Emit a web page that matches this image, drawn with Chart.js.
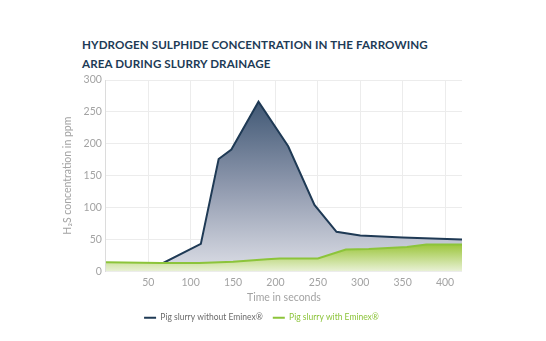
<!DOCTYPE html>
<html>
<head>
<meta charset="utf-8">
<script src="https://cdn.jsdelivr.net/npm/chart.js@4"></script>
<style>
  html, body { margin: 0; padding: 0; background: #fff; }
  #wrap { position: relative; width: 546px; height: 341px; }
  #title {
    position: absolute; left: 82px; top: 35px;
    font: bold 11.6px Lato, sans-serif; line-height: 19px;
    color: #1d3b56; letter-spacing: 0.1px;
  }
  canvas { position: absolute; left: 0; top: 0; }
</style>
</head>
<body>
<div id="wrap">
  <div id="title">HYDROGEN SULPHIDE CONCENTRATION IN THE FARROWING<br>AREA DURING SLURRY DRAINAGE</div>
  <canvas id="h2s" width="546" height="341"></canvas>
</div>
<script>
// time (s) / H2S (ppm) readings
const secondsWithout = [0, 63, 112, 133, 148, 180, 215, 246, 272, 300, 350, 420];
const ppmWithout     = [10, 10, 43, 176, 191, 266, 196, 104, 62, 56, 53, 50];
const secondsWith    = [0, 65, 110, 150, 190, 205, 250, 283, 310, 355, 378, 420];
const ppmWith        = [14, 13, 13, 15, 19, 20, 20, 34, 35, 38, 42, 42];

const xTicks = [50, 100, 150, 200, 250, 300, 350, 400];
const labelWithout = 'Pig slurry without Eminex®';
const labelWith = 'Pig slurry with Eminex®';

const toPoints = (xs, ys) => xs.map((x, i) => ({ x: x, y: ys[i] }));

const darkFill = (ctx) => {
  const area = ctx.chart.chartArea;
  if (!area) return 'rgba(120,135,160,0.5)';
  const y = ctx.chart.scales.y;
  const g = ctx.chart.ctx.createLinearGradient(0, y.getPixelForValue(270), 0, area.bottom);
  g.addColorStop(0, '#3e5673');
  g.addColorStop(0.5, '#8e98ad');
  g.addColorStop(1, '#dcdee6');
  return g;
};

const greenFill = (ctx) => {
  const area = ctx.chart.chartArea;
  if (!area) return 'rgba(150,195,60,0.8)';
  const y = ctx.chart.scales.y;
  const g = ctx.chart.ctx.createLinearGradient(0, y.getPixelForValue(42), 0, area.bottom);
  g.addColorStop(0, '#9cc63c');
  g.addColorStop(1, '#e9f1d6');
  return g;
};

const gray = '#a3a3a3';

new Chart(document.getElementById('h2s'), {
  type: 'line',
  data: {
    datasets: [
      {
        label: labelWithout,
        data: toPoints(secondsWithout, ppmWithout),
        borderColor: '#1f3a55',
        borderWidth: 2,
        backgroundColor: darkFill,
        fill: 'origin',
        pointRadius: 0,
        tension: 0,
        order: 1,
      },
      {
        label: labelWith,
        data: toPoints(secondsWith, ppmWith),
        borderColor: '#8cc43a',
        borderWidth: 2,
        backgroundColor: greenFill,
        fill: 'origin',
        pointRadius: 0,
        tension: 0,
        order: 0,
      },
    ],
  },
  options: {
    responsive: false,
    animation: false,
    layout: { padding: { top: 80, left: 61, right: 84, bottom: 9 } },
    plugins: {
      tooltip: { enabled: false },
      legend: {
        position: 'bottom',
        labels: {
          boxWidth: 12,
          boxHeight: 2,
          padding: 10,
          font: { family: 'Lato', size: 8.5 },
          sort: (a, b) => a.datasetIndex - b.datasetIndex,
          generateLabels: (chart) => chart.data.datasets.map((ds, i) => ({
            text: ds.label,
            fillStyle: ds.borderColor,
            strokeStyle: ds.borderColor,
            lineWidth: 0,
            fontColor: i === 0 ? '#6b6b6b' : '#8cc43a',
            datasetIndex: i,
            hidden: false,
          })),
        },
      },
    },
    scales: {
      x: {
        type: 'linear',
        min: 0,
        max: 420,
        afterBuildTicks: (s) => { s.ticks = xTicks.map(v => ({ value: v })); },
        ticks: { color: gray, font: { family: 'Lato', size: 10.5 }, padding: 5, maxRotation: 0 },
        grid: { color: '#ececec', tickLength: 0 },
        border: { display: false },
        title: {
          display: true,
          text: 'Time in seconds',
          color: gray,
          font: { family: 'Lato', size: 10.5 },
          padding: { top: -3, bottom: 0 },
        },
      },
      y: {
        min: 0,
        max: 300,
        ticks: { stepSize: 50, color: gray, font: { family: 'Lato', size: 10.5 }, padding: 4 },
        grid: { color: '#ececec', tickLength: 0 },
        border: { display: true, color: '#dcdcdc' },
        title: {
          display: true,
          text: 'H₂S concentration in ppm',
          color: gray,
          font: { family: 'Lato', size: 10.5 },
          padding: { top: 0, bottom: 6 },
        },
      },
    },
  },
});
</script>
</body>
</html>
